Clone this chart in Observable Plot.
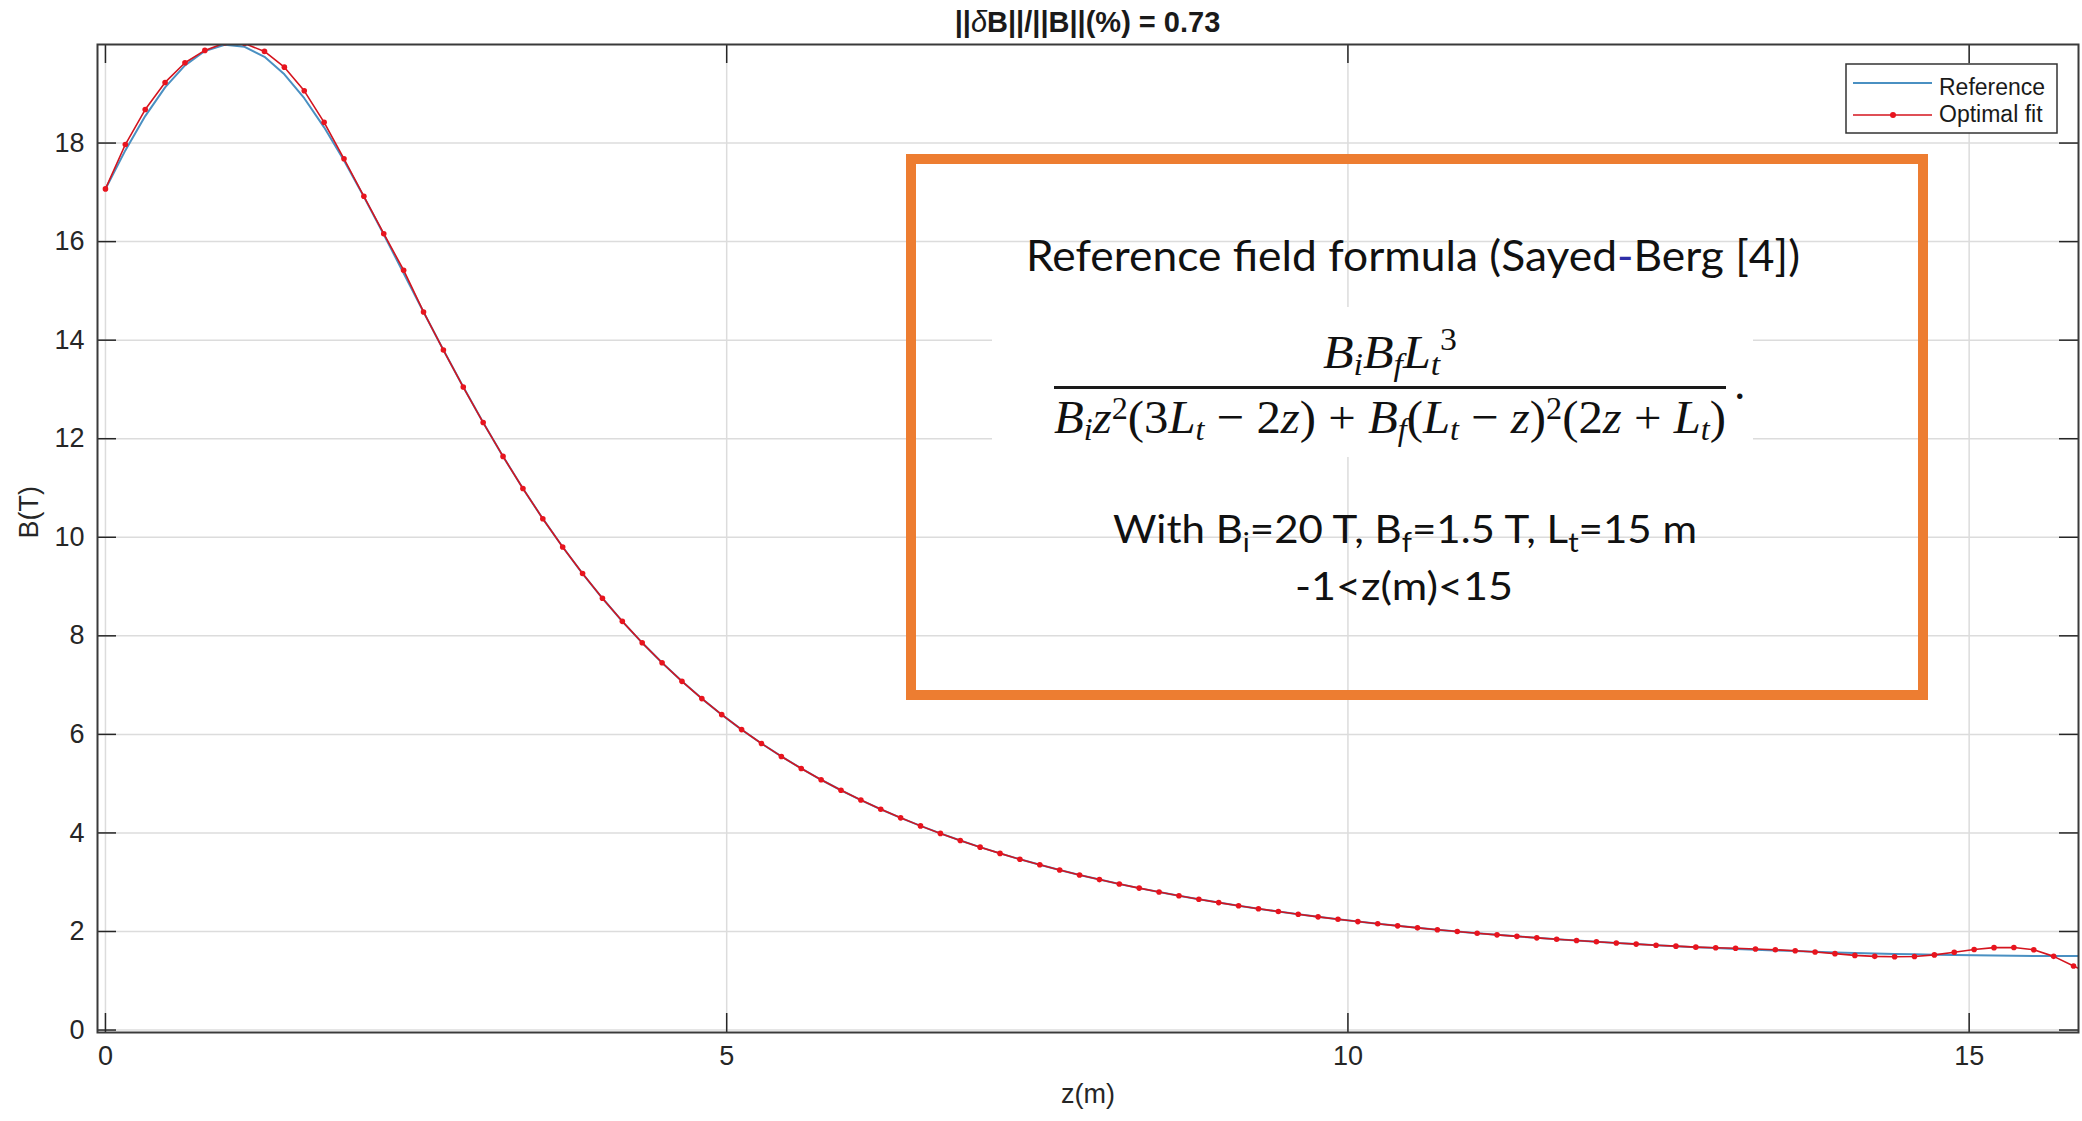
<!DOCTYPE html>
<html>
<head>
<meta charset="utf-8">
<script src="https://cdn.jsdelivr.net/npm/d3@7"></script>
<script src="https://cdn.jsdelivr.net/npm/@observablehq/plot@0.6"></script>
<style>
html, body { margin: 0; padding: 0; background: #fff; overflow: hidden; }
#page { position: relative; width: 2082px; height: 1121px; }
#title { position: absolute; left: 97px; width: 1981px; top: 4px; line-height: 36px; text-align: center;
  font-family: "Liberation Sans", Arial, sans-serif; font-weight: bold; font-size: 29px; color: #1a1a1a; }
#chart { position: absolute; left: 0; top: 40px; }
#overlay { position: absolute; left: 0; top: 0; pointer-events: none; white-space: pre; }
</style>
</head>
<body>
<div id="page">
  <div id="title">||<span style="font-style:italic;font-weight:normal">δ</span>B||/||B||(%) = 0.73</div>
  <div id="chart"></div>
  <svg id="overlay" width="2082" height="1121" xmlns="http://www.w3.org/2000/svg">
    <!-- white background behind the formula image -->
    <rect x="992" y="307" width="761" height="150" fill="#ffffff"/>
    <!-- orange annotation box -->
    <rect x="911" y="159" width="1012" height="536" fill="none" stroke="#ED7D31" stroke-width="10"/>
    <text x="1413" y="271" text-anchor="middle" font-family="Lato, 'Open Sans', sans-serif" font-size="42" fill="#111"
      textLength="774" lengthAdjust="spacingAndGlyphs">Reference field formula (Sayed<tspan fill="#2e2ea8">-</tspan>Berg [4])</text>
    <!-- formula -->
    <text x="1390" y="368" text-anchor="middle" font-family="'Liberation Serif', 'Times New Roman', serif" font-size="46" fill="#111"
      textLength="134" lengthAdjust="spacingAndGlyphs"><tspan font-style="italic">B</tspan><tspan font-style="italic" font-size="31" dy="7">i</tspan><tspan font-style="italic" dy="-7">B</tspan><tspan font-style="italic" font-size="31" dy="7">f</tspan><tspan font-style="italic" dy="-7">L</tspan><tspan font-style="italic" font-size="31" dy="7">t</tspan><tspan font-size="31" dy="-25">3</tspan></text>
    <rect x="1054" y="386" width="672" height="3" fill="#1a1a1a"/>
    <text x="1390" y="433" text-anchor="middle" font-family="'Liberation Serif', 'Times New Roman', serif" font-size="47" fill="#111"
      textLength="672" lengthAdjust="spacingAndGlyphs"><tspan font-style="italic">B</tspan><tspan font-style="italic" font-size="31" dy="7">i</tspan><tspan font-style="italic" dy="-7">z</tspan><tspan font-size="31" dy="-14">2</tspan><tspan dy="14">(3</tspan><tspan font-style="italic">L</tspan><tspan font-style="italic" font-size="31" dy="7">t</tspan><tspan dy="-7"> − 2</tspan><tspan font-style="italic">z</tspan><tspan>) + </tspan><tspan font-style="italic">B</tspan><tspan font-style="italic" font-size="31" dy="7">f</tspan><tspan dy="-7">(</tspan><tspan font-style="italic">L</tspan><tspan font-style="italic" font-size="31" dy="7">t</tspan><tspan dy="-7"> − </tspan><tspan font-style="italic">z</tspan><tspan>)</tspan><tspan font-size="31" dy="-14">2</tspan><tspan dy="14">(2</tspan><tspan font-style="italic">z</tspan><tspan> + </tspan><tspan font-style="italic">L</tspan><tspan font-style="italic" font-size="31" dy="7">t</tspan><tspan dy="-7">)</tspan></text>
    <text x="1734" y="399" font-family="'Liberation Serif', serif" font-size="46" fill="#111">.</text>
    <text x="1405" y="543" text-anchor="middle" font-family="Lato, 'Open Sans', sans-serif" font-size="39" fill="#111"
      textLength="584" lengthAdjust="spacingAndGlyphs">With B<tspan font-size="27" dy="9">i</tspan><tspan dy="-9">=20 T, B</tspan><tspan font-size="27" dy="9">f</tspan><tspan dy="-9">=1.5 T, L</tspan><tspan font-size="27" dy="9">t</tspan><tspan dy="-9">=15 m</tspan></text>
    <text x="1404" y="600" text-anchor="middle" font-family="Lato, 'Open Sans', sans-serif" font-size="39" fill="#111"
      textLength="218" lengthAdjust="spacingAndGlyphs">-1&lt;z(m)&lt;15</text>
    <!-- legend -->
    <rect x="1846" y="64" width="211" height="69" fill="#fff" stroke="#333" stroke-width="1.5"/>
    <line x1="1853" x2="1932" y1="83" y2="83" stroke="#4a90c2" stroke-width="2"/>
    <text x="1939" y="95" font-family="'Liberation Sans', Arial, sans-serif" font-size="23" fill="#1a1a1a">Reference</text>
    <line x1="1853" x2="1932" y1="115" y2="115" stroke="#d4141e" stroke-width="1.6"/>
    <circle cx="1893" cy="115" r="3" fill="#e8141e"/>
    <text x="1939" y="122" font-family="'Liberation Sans', Arial, sans-serif" font-size="23" fill="#1a1a1a">Optimal fit</text>
  </svg>
</div>
<script>
// z positions (m)
const zValues = [
  0, 0.16, 0.32, 0.48, 0.64, 0.8, 0.96, 1.12, 1.28, 1.44,
  1.6, 1.76, 1.92, 2.08, 2.24, 2.4, 2.56, 2.72, 2.88, 3.04,
  3.2, 3.36, 3.52, 3.68, 3.84, 4, 4.16, 4.32, 4.48, 4.64,
  4.8, 4.96, 5.12, 5.28, 5.44, 5.6, 5.76, 5.92, 6.08, 6.24,
  6.4, 6.56, 6.72, 6.88, 7.04, 7.2, 7.36, 7.52, 7.68, 7.84,
  8, 8.16, 8.32, 8.48, 8.64, 8.8, 8.96, 9.12, 9.28, 9.44,
  9.6, 9.76, 9.92, 10.08, 10.24, 10.4, 10.56, 10.72, 10.88, 11.04,
  11.2, 11.36, 11.52, 11.68, 11.84, 12, 12.16, 12.32, 12.48, 12.64,
  12.8, 12.96, 13.12, 13.28, 13.44, 13.6, 13.76, 13.92, 14.08, 14.24,
  14.4, 14.56, 14.72, 14.88, 15.04, 15.2, 15.36, 15.52, 15.68, 15.84,
  16
];
// Reference field B(T)
const referenceB = [
  17.068, 17.851, 18.547, 19.130, 19.576, 19.868, 19.995, 19.953, 19.749, 19.395,
  18.910, 18.319, 17.644, 16.912, 16.143, 15.358, 14.573, 13.800, 13.049, 12.328,
  11.641, 10.990, 10.377, 9.802, 9.264, 8.762, 8.294, 7.858, 7.453, 7.076,
  6.726, 6.400, 6.097, 5.815, 5.552, 5.308, 5.079, 4.866, 4.667, 4.481,
  4.306, 4.143, 3.990, 3.846, 3.711, 3.585, 3.465, 3.353, 3.247, 3.147,
  3.053, 2.964, 2.880, 2.800, 2.725, 2.654, 2.586, 2.522, 2.462, 2.404,
  2.349, 2.297, 2.248, 2.201, 2.157, 2.114, 2.074, 2.036, 1.999, 1.965,
  1.932, 1.901, 1.871, 1.843, 1.816, 1.791, 1.767, 1.744, 1.722, 1.702,
  1.682, 1.664, 1.647, 1.631, 1.616, 1.602, 1.589, 1.576, 1.565, 1.555,
  1.545, 1.537, 1.529, 1.522, 1.517, 1.512, 1.508, 1.504, 1.502, 1.501,
  1.500
];
// Optimal fit B(T)
const fitB = [
  17.07, 17.97, 18.68, 19.23, 19.63, 19.88, 20.03, 20.02, 19.86, 19.54,
  19.06, 18.42, 17.68, 16.92, 16.16, 15.42, 14.573, 13.800, 13.049, 12.328,
  11.641, 10.990, 10.377, 9.802, 9.264, 8.762, 8.294, 7.858, 7.453, 7.076,
  6.726, 6.400, 6.097, 5.815, 5.552, 5.308, 5.079, 4.866, 4.667, 4.481,
  4.306, 4.143, 3.990, 3.846, 3.711, 3.585, 3.465, 3.353, 3.247, 3.147,
  3.053, 2.964, 2.880, 2.800, 2.725, 2.654, 2.586, 2.522, 2.462, 2.404,
  2.349, 2.297, 2.248, 2.201, 2.157, 2.114, 2.074, 2.036, 1.999, 1.965,
  1.932, 1.901, 1.871, 1.843, 1.816, 1.791, 1.767, 1.744, 1.722, 1.702,
  1.682, 1.67, 1.66, 1.645, 1.63, 1.61, 1.585, 1.55, 1.515, 1.495,
  1.487, 1.493, 1.525, 1.58, 1.635, 1.672, 1.675, 1.628, 1.495, 1.30,
  1.11
];
const xTicks = [0, 5, 10, 15];
const yTicks = [0, 2, 4, 6, 8, 10, 12, 14, 16, 18];

const data = zValues.map((z, i) => ({z, ref: referenceB[i], fit: fitB[i]}));

const W = 2082, H = 1081;
const mL = 97, mR = 4, mT = 4, mB = 89;
const frameW = W - mL - mR, frameH = H - mT - mB;
const tickLen = 19;
const axisColor = "#262626";
const blue = "#4a90c2", red = "#d4141e", redDot = "#e8141e";
const fmt = d3.format("d");

const chart = Plot.plot({
  width: W, height: H,
  marginLeft: mL, marginRight: mR, marginTop: mT, marginBottom: mB,
  style: {fontFamily: '"Liberation Sans", Arial, sans-serif', fontSize: "27px", color: axisColor, background: "white"},
  x: {domain: [-0.064, 15.88]},
  y: {domain: [-0.05, 20]},
  marks: [
    Plot.gridX(xTicks, {stroke: "#dcdcdc", strokeOpacity: 1, strokeWidth: 1.5}),
    Plot.gridY(yTicks, {stroke: "#dcdcdc", strokeOpacity: 1, strokeWidth: 1.5}),
    Plot.axisX(xTicks, {tickSize: 0, tickPadding: 13, label: null, tickFormat: fmt}),
    Plot.axisY(yTicks, {tickSize: 0, tickPadding: 13, label: null, tickFormat: fmt}),
    Plot.line(data, {x: "z", y: "ref", stroke: blue, strokeWidth: 2, clip: true}),
    Plot.line(data, {x: "z", y: "fit", stroke: red, strokeWidth: 1.6, clip: true}),
    Plot.dot(data, {x: "z", y: "fit", r: 2.8, fill: redDot, clip: true}),
    Plot.tickX(xTicks, {x: d => d, insetTop: frameH - tickLen, stroke: axisColor, strokeWidth: 1.5}),
    Plot.tickX(xTicks, {x: d => d, insetBottom: frameH - tickLen, stroke: axisColor, strokeWidth: 1.5}),
    Plot.tickY(yTicks, {y: d => d, insetRight: frameW - tickLen, stroke: axisColor, strokeWidth: 1.5}),
    Plot.tickY(yTicks, {y: d => d, insetLeft: frameW - tickLen, stroke: axisColor, strokeWidth: 1.5}),
    Plot.frame({stroke: "#3a3a3a", strokeWidth: 2}),
    Plot.text(["B(T)"], {text: d => d, frameAnchor: "left", dx: -68, rotate: -90, fontSize: 27, fill: axisColor}),
    Plot.text(["z(m)"], {text: d => d, frameAnchor: "bottom", dy: 70, fontSize: 27, fill: axisColor})
  ]
});
document.getElementById("chart").append(chart);
</script>
</body>
</html>
